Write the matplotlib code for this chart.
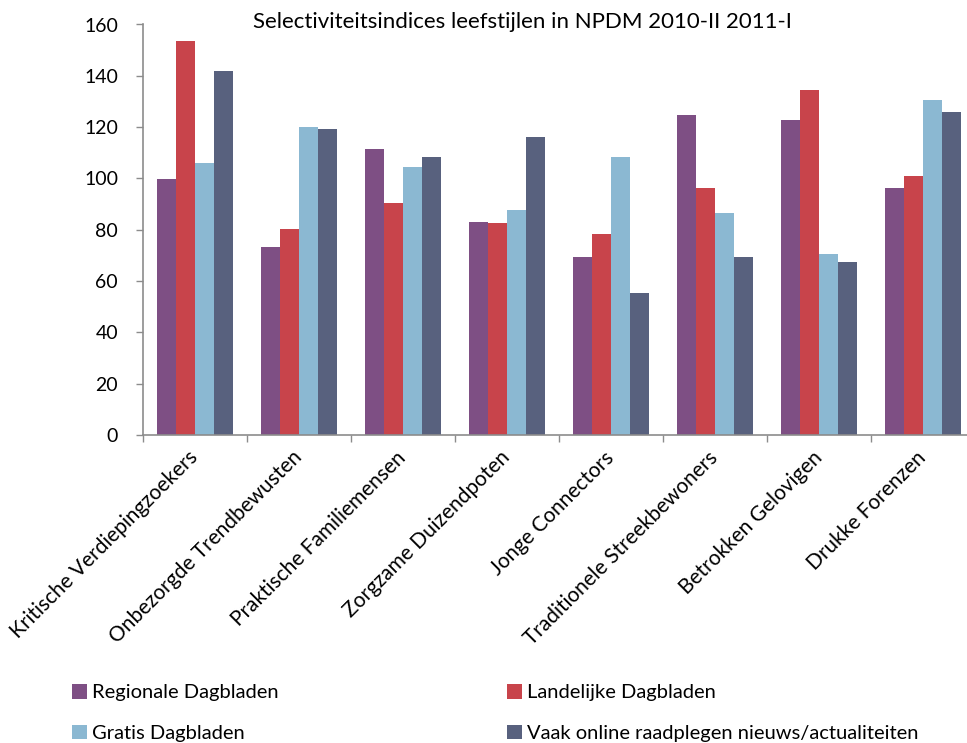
import matplotlib
matplotlib.use("Agg")
import matplotlib.pyplot as plt
import numpy as np

plt.rcParams['font.family'] = ['Lato', 'DejaVu Sans']

categories = ["Kritische Verdiepingzoekers", "Onbezorgde Trendbewusten", "Praktische Familiemensen",
              "Zorgzame Duizendpoten", "Jonge Connectors", "Traditionele Streekbewoners",
              "Betrokken Gelovigen", "Drukke Forenzen"]
series_names = ["Regionale Dagbladen", "Landelijke Dagbladen", "Gratis Dagbladen",
                "Vaak online raadplegen nieuws/actualiteiten"]
regionale = [99.6, 73.2, 111.4, 83.1, 69.3, 124.8, 122.8, 96.3]
landelijke = [153.6, 80.4, 90.4, 82.5, 78.4, 96.3, 134.5, 101.0]
gratis = [106.1, 120.0, 104.3, 87.8, 108.2, 86.5, 70.6, 130.6]
vaak = [141.8, 119.3, 108.2, 116.2, 55.4, 69.3, 67.3, 125.9]
yticks = [0, 20, 40, 60, 80, 100, 120, 140, 160]
title = "Selectiviteitsindices leefstijlen in NPDM 2010-II 2011-I"

colors = ["#7E4F84", "#C8444B", "#8BB8D2", "#58617E"]
data = [regionale, landelijke, gratis, vaak]

fig = plt.figure(figsize=(9.67, 7.43), dpi=100)
ax = fig.add_axes([143/967, 1-435/743, 832/967, 410.5/743])

x = np.arange(len(categories))
w = 0.182
handles = []
for i, (vals, c, name) in enumerate(zip(data, colors, series_names)):
    b = ax.bar(x + (i - 1.5) * w, vals, width=w, color=c, label=name, zorder=2)
    handles.append(b)

ax.set_xlim(-0.5, len(categories) - 0.5)
ax.set_ylim(0, 160)
ax.set_yticks(yticks)
ax.set_yticklabels([str(t) for t in yticks], fontsize=14)

ax.set_xticks(x)
ax.set_xticklabels(categories, rotation=45, ha='right', va='center', rotation_mode='anchor', fontsize=15)
ax.set_xticks(np.arange(len(categories) + 1) - 0.5, minor=True)
ax.tick_params(axis='x', which='major', length=0, pad=14)
ax.tick_params(axis='x', which='minor', length=5, color='#8C8C8C', width=1)
ax.tick_params(axis='y', length=5, color='#8C8C8C', width=1, pad=13)

for s in ['top', 'right']:
    ax.spines[s].set_visible(False)
for s in ['left', 'bottom']:
    ax.spines[s].set_color('#8C8C8C')
    ax.spines[s].set_linewidth(1.2)

fig.text(0.540, 1 - 22/743, title, ha='center', va='center', fontsize=16)

legkw = dict(loc='upper left', frameon=False, fontsize=14.5, handlelength=0.75,
             handleheight=0.75, handletextpad=0.25, labelspacing=1.15,
             borderpad=0, borderaxespad=0)
leg1 = fig.legend([handles[0], handles[2]], [series_names[0], series_names[2]],
                  bbox_to_anchor=(72/967, 1 - 684/743), **legkw)
leg2 = fig.legend([handles[1], handles[3]], [series_names[1], series_names[3]],
                  bbox_to_anchor=(507/967, 1 - 684/743), **legkw)

fig.savefig("out.png", dpi=100)
